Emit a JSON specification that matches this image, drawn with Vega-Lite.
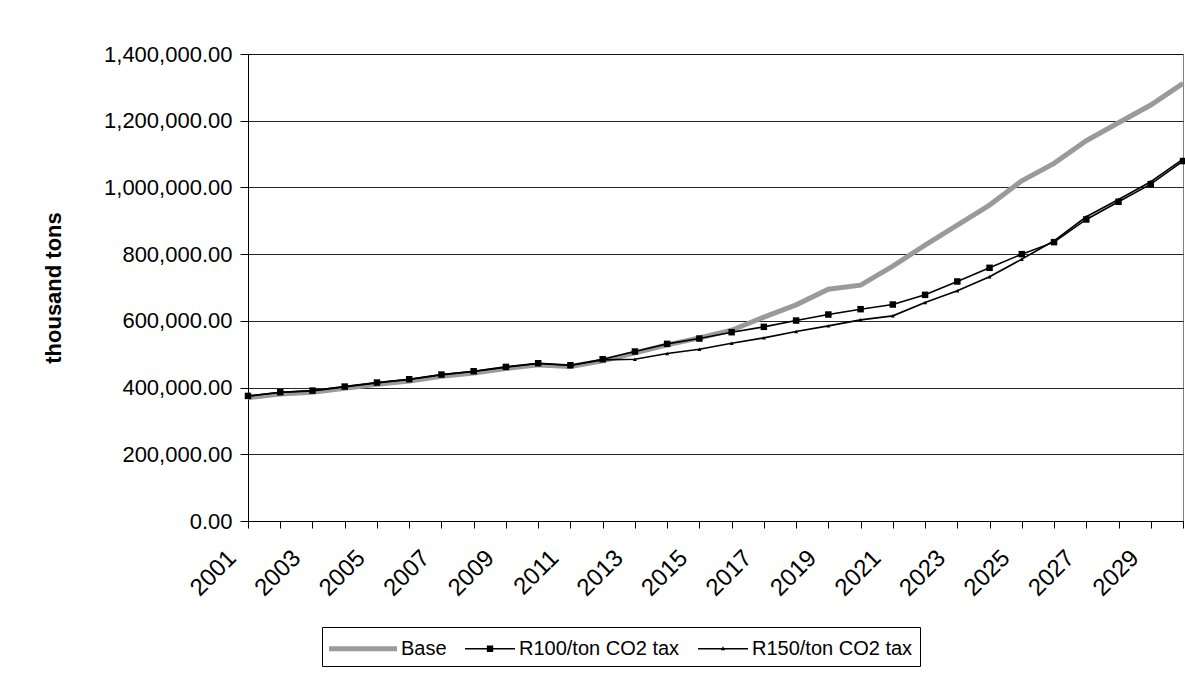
{
  "$schema": "https://vega.github.io/schema/vega-lite/v6.json",
  "width": 935,
  "height": 467,
  "autosize": {"type": "none"},
  "padding": {"left": 248, "top": 54, "right": 2, "bottom": 157},
  "background": "white",
  "config": {
    "font": "Liberation Sans",
    "view": {"stroke": "#808080", "strokeWidth": 1},
    "axis": {
      "labelFont": "Liberation Sans",
      "labelColor": "black",
      "domainColor": "black",
      "tickColor": "black",
      "titleColor": "black"
    },
    "legend": {
      "orient": "none",
      "legendX": 74,
      "legendY": 573,
      "direction": "horizontal",
      "strokeColor": "black",
      "fillColor": "white",
      "padding": 7,
      "symbolSize": 841,
      "symbolStrokeWidth": 0,
      "symbolOpacity": 1,
      "labelFont": "Liberation Sans",
      "labelFontSize": 20,
      "labelColor": "black",
      "labelOffset": 43,
      "columnPadding": 0,
      "labelLimit": 0
    }
  },
  "data": {
    "values": [
      {"year": 2001, "series": "Base", "value": 370000},
      {"year": 2002, "series": "Base", "value": 381000},
      {"year": 2003, "series": "Base", "value": 386000},
      {"year": 2004, "series": "Base", "value": 398000},
      {"year": 2005, "series": "Base", "value": 410000},
      {"year": 2006, "series": "Base", "value": 420000},
      {"year": 2007, "series": "Base", "value": 434000},
      {"year": 2008, "series": "Base", "value": 444000},
      {"year": 2009, "series": "Base", "value": 457000},
      {"year": 2010, "series": "Base", "value": 468000},
      {"year": 2011, "series": "Base", "value": 463000},
      {"year": 2012, "series": "Base", "value": 480000},
      {"year": 2013, "series": "Base", "value": 504000},
      {"year": 2014, "series": "Base", "value": 528000},
      {"year": 2015, "series": "Base", "value": 549000},
      {"year": 2016, "series": "Base", "value": 572000},
      {"year": 2017, "series": "Base", "value": 611000},
      {"year": 2018, "series": "Base", "value": 648000},
      {"year": 2019, "series": "Base", "value": 695000},
      {"year": 2020, "series": "Base", "value": 707000},
      {"year": 2021, "series": "Base", "value": 764000},
      {"year": 2022, "series": "Base", "value": 827000},
      {"year": 2023, "series": "Base", "value": 887000},
      {"year": 2024, "series": "Base", "value": 947000},
      {"year": 2025, "series": "Base", "value": 1020000},
      {"year": 2026, "series": "Base", "value": 1072000},
      {"year": 2027, "series": "Base", "value": 1140000},
      {"year": 2028, "series": "Base", "value": 1194000},
      {"year": 2029, "series": "Base", "value": 1247000},
      {"year": 2030, "series": "Base", "value": 1312000},
      {"year": 2001, "series": "R100/ton CO2 tax", "value": 375000},
      {"year": 2002, "series": "R100/ton CO2 tax", "value": 386000},
      {"year": 2003, "series": "R100/ton CO2 tax", "value": 391000},
      {"year": 2004, "series": "R100/ton CO2 tax", "value": 403000},
      {"year": 2005, "series": "R100/ton CO2 tax", "value": 415000},
      {"year": 2006, "series": "R100/ton CO2 tax", "value": 425000},
      {"year": 2007, "series": "R100/ton CO2 tax", "value": 439000},
      {"year": 2008, "series": "R100/ton CO2 tax", "value": 449000},
      {"year": 2009, "series": "R100/ton CO2 tax", "value": 462000},
      {"year": 2010, "series": "R100/ton CO2 tax", "value": 473000},
      {"year": 2011, "series": "R100/ton CO2 tax", "value": 467000},
      {"year": 2012, "series": "R100/ton CO2 tax", "value": 485000},
      {"year": 2013, "series": "R100/ton CO2 tax", "value": 508000},
      {"year": 2014, "series": "R100/ton CO2 tax", "value": 531000},
      {"year": 2015, "series": "R100/ton CO2 tax", "value": 547000},
      {"year": 2016, "series": "R100/ton CO2 tax", "value": 566000},
      {"year": 2017, "series": "R100/ton CO2 tax", "value": 582000},
      {"year": 2018, "series": "R100/ton CO2 tax", "value": 601000},
      {"year": 2019, "series": "R100/ton CO2 tax", "value": 619000},
      {"year": 2020, "series": "R100/ton CO2 tax", "value": 635000},
      {"year": 2021, "series": "R100/ton CO2 tax", "value": 649000},
      {"year": 2022, "series": "R100/ton CO2 tax", "value": 678000},
      {"year": 2023, "series": "R100/ton CO2 tax", "value": 718000},
      {"year": 2024, "series": "R100/ton CO2 tax", "value": 759000},
      {"year": 2025, "series": "R100/ton CO2 tax", "value": 800000},
      {"year": 2026, "series": "R100/ton CO2 tax", "value": 836000},
      {"year": 2027, "series": "R100/ton CO2 tax", "value": 904000},
      {"year": 2028, "series": "R100/ton CO2 tax", "value": 957000},
      {"year": 2029, "series": "R100/ton CO2 tax", "value": 1010000},
      {"year": 2030, "series": "R100/ton CO2 tax", "value": 1079000},
      {"year": 2001, "series": "R150/ton CO2 tax", "value": 374000},
      {"year": 2002, "series": "R150/ton CO2 tax", "value": 385000},
      {"year": 2003, "series": "R150/ton CO2 tax", "value": 390000},
      {"year": 2004, "series": "R150/ton CO2 tax", "value": 402000},
      {"year": 2005, "series": "R150/ton CO2 tax", "value": 414000},
      {"year": 2006, "series": "R150/ton CO2 tax", "value": 424000},
      {"year": 2007, "series": "R150/ton CO2 tax", "value": 438000},
      {"year": 2008, "series": "R150/ton CO2 tax", "value": 448000},
      {"year": 2009, "series": "R150/ton CO2 tax", "value": 461000},
      {"year": 2010, "series": "R150/ton CO2 tax", "value": 472000},
      {"year": 2011, "series": "R150/ton CO2 tax", "value": 466000},
      {"year": 2012, "series": "R150/ton CO2 tax", "value": 483000},
      {"year": 2013, "series": "R150/ton CO2 tax", "value": 485000},
      {"year": 2014, "series": "R150/ton CO2 tax", "value": 502000},
      {"year": 2015, "series": "R150/ton CO2 tax", "value": 515000},
      {"year": 2016, "series": "R150/ton CO2 tax", "value": 533000},
      {"year": 2017, "series": "R150/ton CO2 tax", "value": 549000},
      {"year": 2018, "series": "R150/ton CO2 tax", "value": 568000},
      {"year": 2019, "series": "R150/ton CO2 tax", "value": 585000},
      {"year": 2020, "series": "R150/ton CO2 tax", "value": 603000},
      {"year": 2021, "series": "R150/ton CO2 tax", "value": 615000},
      {"year": 2022, "series": "R150/ton CO2 tax", "value": 655000},
      {"year": 2023, "series": "R150/ton CO2 tax", "value": 690000},
      {"year": 2024, "series": "R150/ton CO2 tax", "value": 732000},
      {"year": 2025, "series": "R150/ton CO2 tax", "value": 785000},
      {"year": 2026, "series": "R150/ton CO2 tax", "value": 840000},
      {"year": 2027, "series": "R150/ton CO2 tax", "value": 912000},
      {"year": 2028, "series": "R150/ton CO2 tax", "value": 964000},
      {"year": 2029, "series": "R150/ton CO2 tax", "value": 1017000},
      {"year": 2030, "series": "R150/ton CO2 tax", "value": 1085000}
    ]
  },
  "encoding": {
    "x": {
      "field": "year",
      "type": "quantitative",
      "scale": {"domain": [2001, 2030], "nice": false, "zero": false},
      "axis": {
        "title": null,
        "grid": false,
        "values": [2001, 2002, 2003, 2004, 2005, 2006, 2007, 2008, 2009, 2010, 2011, 2012, 2013, 2014, 2015, 2016, 2017, 2018, 2019, 2020, 2021, 2022, 2023, 2024, 2025, 2026, 2027, 2028, 2029, 2030],
        "labelExpr": "datum.value % 2 == 1 ? format(datum.value, 'd') : ''",
        "labelAngle": -45,
        "labelAlign": "right",
        "labelBaseline": "middle",
        "labelFontSize": 24,
        "labelPadding": 26,
        "labelOffset": -16,
        "tickSize": 7,
        "labelOverlap": false,
        "labelFlush": false
      }
    },
    "y": {
      "field": "value",
      "type": "quantitative",
      "scale": {"domain": [0, 1400000], "nice": false},
      "axis": {
        "title": "thousand tons",
        "titleFontSize": 22,
        "titleFontWeight": "bold",
        "titlePadding": 38,
        "values": [0, 200000, 400000, 600000, 800000, 1000000, 1200000, 1400000],
        "format": ",.2f",
        "labelFontSize": 22,
        "labelPadding": 8,
        "tickSize": 8,
        "grid": true,
        "gridColor": "black",
        "gridOpacity": 0.85
      }
    }
  },
  "layer": [
    {
      "transform": [{"filter": "datum.series == 'Base'"}],
      "mark": {"type": "line", "stroke": "#9a9a9a", "strokeWidth": 5}
    },
    {
      "transform": [{"filter": "datum.series != 'Base'"}],
      "mark": {"type": "line", "stroke": "black", "strokeWidth": 1.6},
      "encoding": {"detail": {"field": "series"}}
    },
    {
      "transform": [{"filter": "datum.series == 'R100/ton CO2 tax'"}],
      "mark": {"type": "point", "shape": "square", "filled": true, "color": "black", "size": 42, "opacity": 1}
    },
    {
      "transform": [{"filter": "datum.series == 'R150/ton CO2 tax'"}],
      "mark": {"type": "point", "shape": "triangle-up", "filled": true, "color": "black", "size": 16, "opacity": 1}
    },
    {
      "mark": {"type": "point", "filled": true, "opacity": 0},
      "encoding": {
        "shape": {
          "field": "series",
          "type": "nominal",
          "scale": {
            "domain": ["Base", "R100/ton CO2 tax", "R150/ton CO2 tax"],
            "range": [
              "M-1,-0.18L3.69,-0.18L3.69,0.18L-1,0.18Z",
              "M0.241,-0.05L3.69,-0.05L3.69,0.05L0.241,0.05Z M1.746,-0.22L2.186,-0.22L2.186,0.22L1.746,0.22Z",
              "M0.241,-0.05L3.69,-0.05L3.69,0.05L0.241,0.05Z M1.966,-0.17L2.116,0.1L1.816,0.1Z"
            ]
          },
          "legend": {"title": null}
        },
        "color": {
          "field": "series",
          "type": "nominal",
          "scale": {
            "domain": ["Base", "R100/ton CO2 tax", "R150/ton CO2 tax"],
            "range": ["#9a9a9a", "black", "black"]
          },
          "legend": {"title": null}
        }
      }
    }
  ]
}
